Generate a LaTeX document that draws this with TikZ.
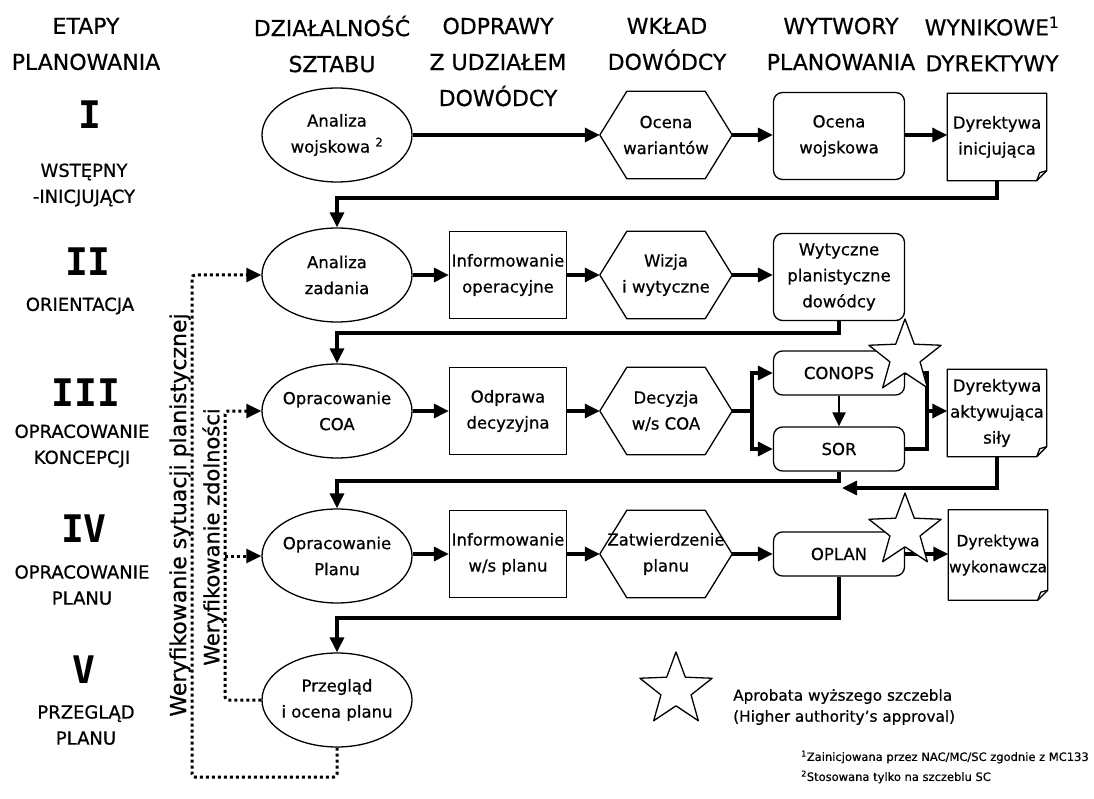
\documentclass[tikz,border=0pt]{standalone}
\usepackage{fontspec}
\setmainfont{DejaVu Sans}[FakeBold=0.6]
\newfontfamily\numfont{DejaVu Sans Mono}
\usetikzlibrary{arrows.meta,shapes.geometric,calc}

% folded-corner sheet drawn around a (borderless) node
\newcommand{\docsheet}[1]{%
  \draw[shapeline] (#1.north west) -- (#1.north east)
    -- ([yshift=10pt]#1.south east) -- ([xshift=-10pt]#1.south east)
    -- (#1.south west) -- cycle;
  \draw[shapeline] ([xshift=-10pt]#1.south east) -- ([xshift=-7pt,yshift=8pt]#1.south east)
    -- ([yshift=10pt]#1.south east);}
% hexagon drawn around a (borderless) node
\newcommand{\hexsheet}[1]{%
  \draw[shapeline] ([xshift=27pt]#1.north west) -- ([xshift=-27pt]#1.north east)
    -- (#1.east) -- ([xshift=-27pt]#1.south east) -- ([xshift=27pt]#1.south west)
    -- (#1.west) -- cycle;}

\begin{document}
\begin{tikzpicture}[x=1pt,y=-1pt,
  every node/.style={inner sep=0pt, align=center},
  shapeline/.style={line width=1.3pt, line join=round},
  hdr/.style={font=\fontsize{22}{36}\selectfont},
  stagetxt/.style={font=\fontsize{18}{26}\selectfont},
  roman/.style={font=\numfont\bfseries\fontsize{38}{38}\selectfont},
  txt/.style={font=\fontsize{16.5}{26}\selectfont},
  staff/.style={txt, draw, ellipse, shapeline, inner xsep=-20pt, inner ysep=-12pt,
                minimum width=150, minimum height=94},
  brief/.style={txt, draw, rectangle, shapeline, minimum width=117, minimum height=87},
  cmd/.style={txt, minimum width=132, minimum height=87},
  product/.style={txt, draw, shapeline, rounded corners=9pt, minimum width=131, minimum height=87},
  smallprod/.style={product, minimum height=44},
  directive/.style={txt, minimum width=99, minimum height=87},
  approval/.style={draw, shapeline, fill=white, star, star points=5,
                   star point ratio=2.4, minimum size=76},
  flow/.style={line width=3.2pt, -{Triangle[length=15pt,width=14pt]}},
  thinflow/.style={line width=2.2pt, -{Triangle[length=14pt,width=13pt]}},
  link/.style={line width=3.2pt},
  verify/.style={line width=3pt, dash pattern=on 3pt off 3pt, rounded corners=3pt},
  verifyarrow/.style={verify, -{Triangle[length=15pt,width=14pt]}}
]
\useasboundingbox (0,0) rectangle (1094,799);
\fill[white] (0,0) rectangle (1094,799);

% ---- column headers
\node[hdr] (hEtapy) at (86,44) {ETAPY\\PLANOWANIA};
\node[hdr] (hSztab) at (332,44) {DZIAŁALNOŚĆ\\SZTABU};
\node[hdr] (hOdpr)  at (498,62) {ODPRAWY\\Z UDZIAŁEM\\DOWÓDCY};
\node[hdr] (hWklad) at (667,44) {WKŁAD\\DOWÓDCY};
\node[hdr] (hWytw)  at (841,44) {WYTWORY\\PLANOWANIA};
\node[hdr] (hWyn)   at (992,44) {WYNIKOWE\textsuperscript{1}\\DYREKTYWY};

% ---- planning stages
\node[roman] (rI)   at (90,115) {I};
\node[stagetxt] (tI) at (84,185) {WSTĘPNY\\-INICJUJĄCY};
\node[roman] (rII)  at (88,262) {II};
\node[stagetxt] (tII) at (80,306) {ORIENTACJA};
\node[roman] (rIII) at (86,393) {III};
\node[stagetxt] (tIII) at (82,446) {OPRACOWANIE\\KONCEPCJI};
\node[roman] (rIV)  at (84,529) {IV};
\node[stagetxt] (tIV) at (82,585) {OPRACOWANIE\\PLANU};
\node[roman] (rV)   at (84,670) {V};
\node[stagetxt] (tV) at (86,725) {PRZEGLĄD\\PLANU};

% ---- row I
\node[staff] (s1) at (337,135) {Analiza\\wojskowa \textsuperscript{2}};
\node[cmd] (h1) at (666,135) {Ocena\\wariantów};
\node[product] (p1) at (839,136) {Ocena\\wojskowa};
\node[directive] (d1) at (997,137) {Dyrektywa\\inicjująca};

% ---- row II
\node[staff] (s2) at (337,275) {Analiza\\zadania};
\node[brief] (b2) at (508,275) {Informowanie\\operacyjne};
\node[cmd] (h2) at (666,275) {Wizja\\i wytyczne};
\node[product] (p2) at (839,277) {Wytyczne\\planistyczne\\dowódcy};

% ---- row III
\node[staff] (s3) at (337,411) {Opracowanie\\COA};
\node[brief] (b3) at (508,411) {Odprawa\\decyzyjna};
\node[cmd] (h3) at (666,411) {Decyzja\\w/s COA};
\node[smallprod] (conops) at (839,373) {CONOPS};
\node[smallprod] (sor) at (839,449) {SOR};
\node[directive] (d3) at (997,413) {Dyrektywa\\aktywująca\\siły};

% ---- row IV
\node[staff] (s4) at (337,556) {Opracowanie\\Planu};
\node[brief] (b4) at (508,554) {Informowanie\\w/s planu};
\node[cmd] (h4) at (666,554) {Zatwierdzenie\\planu};
\node[smallprod] (oplan) at (839,554) {OPLAN};
\node[directive, minimum height=90, font=\fontsize{15.5}{26}\selectfont] (d4) at (998,555)
  {Dyrektywa\\wykonawcza};

% ---- row V
\node[staff] (s5) at (337,700) {Przegląd\\i ocena planu};

\hexsheet{h1}\hexsheet{h2}\hexsheet{h3}\hexsheet{h4}
\docsheet{d1}\docsheet{d3}\docsheet{d4}

% ---- flow inside the rows
\draw[flow] (s1.east) -- (h1.west);
\draw[flow] (h1.east) -- (p1.west |- h1.east);
\draw[flow] (p1.east |- h1.east) -- (d1.west |- h1.east);

\draw[flow] (s2.east) -- (b2.west);
\draw[flow] (b2.east) -- (h2.west);
\draw[flow] (h2.east) -- (p2.west |- h2.east);

\draw[flow] (s3.east) -- (b3.west);
\draw[flow] (b3.east) -- (h3.west);
\coordinate (busL) at (752,411);
\coordinate (busR) at (927,411);
\draw[flow] (h3.east) -- (busL) |- (conops.west);
\draw[flow] (busL) |- (sor.west);
\draw[thinflow] (conops.south) -- (sor.north);
\draw[link] (conops.east) -| (busR) |- (sor.east);
\draw[flow] (busR) -- (d3.west |- busR);

\draw[flow] (s4.east |- b4.west) -- (b4.west);
\draw[flow] (b4.east) -- (h4.west);
\draw[flow] (h4.east) -- (oplan.west);
\draw[flow] (oplan.east) -- (d4.west |- oplan.east);

% ---- hand-over to the next stage
\coordinate (ret1) at (337,198);
\coordinate (ret2) at (337,333);
\coordinate (ret3) at (337,481);
\coordinate (ret3b) at (842,488);
\coordinate (ret4) at (337,618);
\draw[flow] (d1.south) |- (ret1) -- (s2.north);
\draw[flow] (p2.south) |- (ret2) -- (s3.north);
\draw[flow] (sor.south) |- (ret3) -- (s4.north);
\draw[flow] (d3.south) |- (ret3b);
\draw[flow] (oplan.south) |- (ret4) -- (s5.north);

% ---- verification loops
\coordinate (o1) at (337,777);
\coordinate (o2) at (192,777);
\coordinate (o3) at (192,275);
\draw[verifyarrow] (s5.south) -- (o1) -- (o2) -- (o3) -- (s2.west);
\coordinate (i1) at (225,700);
\coordinate (i2) at (225,411);
\coordinate (i3) at (225,556);
\draw[verifyarrow] (s5.west) -- (i1) -- (i2) -- (s3.west);
\draw[verifyarrow] (i3) -- (s4.west);
\node[font=\fontsize{22}{22}\selectfont, rotate=90] (vSit) at (180,515)
  {Weryfikowanie sytuacji planistycznej};
\node[font=\fontsize{21}{21}\selectfont, rotate=90] (vZdol) at (213,537)
  {Weryfikowanie zdolności};

% ---- higher authority approvals
\node[approval] (star3) at (905,357) {};
\node[approval] (star4) at (905,531) {};

% ---- legend and notes
\node[approval] (starL) at (676,690) {};
\node[anchor=west, align=left, font=\fontsize{15.3}{21}\selectfont] (legend) at (733,707)
  {Aprobata wyższego szczebla\\(Higher authority's approval)};
\node[anchor=west, align=left, font=\fontsize{11.5}{20}\selectfont] (notes) at (801,767)
  {\textsuperscript{1}Zainicjowana przez NAC/MC/SC zgodnie z MC133\\
   \textsuperscript{2}Stosowana tylko na szczeblu SC};
\end{tikzpicture}
\end{document}
